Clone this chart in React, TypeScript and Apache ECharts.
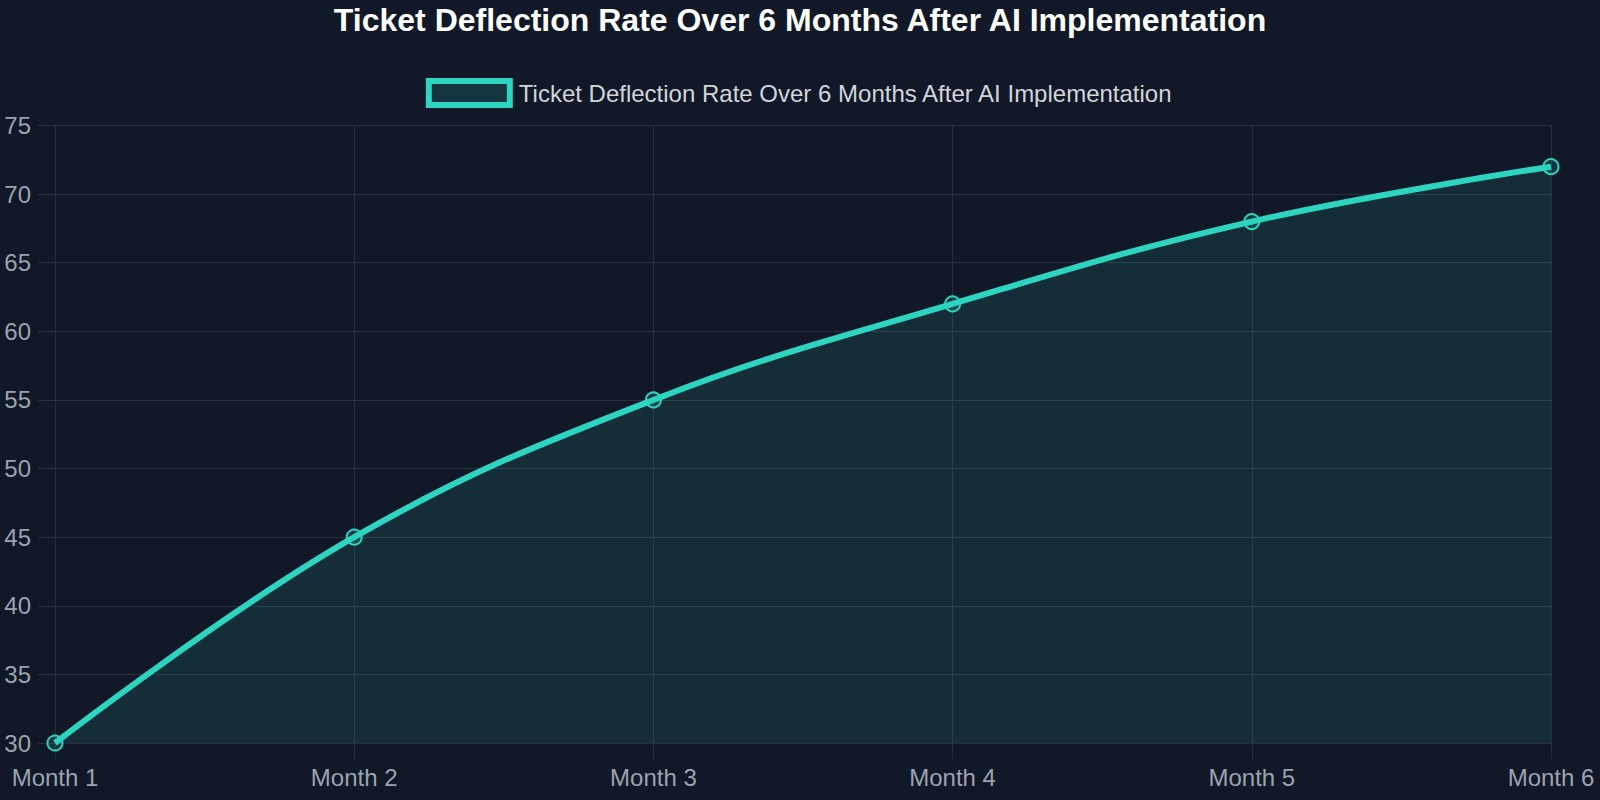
import React, { useEffect, useRef } from "react";
import * as echarts from "echarts";

const chartTitle = "Ticket Deflection Rate Over 6 Months After AI Implementation";
const seriesName = "Ticket Deflection Rate Over 6 Months After AI Implementation";
const months = ["Month 1", "Month 2", "Month 3", "Month 4", "Month 5", "Month 6"];
const deflectionRate = [30, 45, 55, 62, 68, 72];
const yMin = 30;
const yMax = 75;
const yStep = 5;

const TEAL = "#2dd4bf";
const FILL = "rgba(45,212,191,0.16)";
const GRID = "#283040";
const LABEL = "#9ca3af";
const FONT = "'Liberation Sans', Arial, Helvetica, sans-serif";

export default function App() {
  const ref = useRef<HTMLDivElement>(null);

  useEffect(() => {
    if (!ref.current) return;
    const chart = echarts.init(ref.current, undefined, { renderer: "svg" });
    chart.setOption({
      animation: false,
      backgroundColor: "#111827",
      textStyle: { fontFamily: FONT },
      title: {
        text: chartTitle,
        left: "center",
        top: -1,
        textStyle: { color: "#ffffff", fontSize: 32, fontWeight: "bold", fontFamily: FONT },
      },
      legend: {
        top: 73,
        left: "center",
        icon: "rect",
        itemWidth: 81,
        itemHeight: 24,
        itemGap: 10,
        itemStyle: { color: FILL, borderColor: TEAL, borderWidth: 6 },
        textStyle: { color: "#d1d5db", fontSize: 24, fontFamily: FONT, padding: [0, 0, 0, 4] },
        data: [seriesName],
      },
      grid: { left: 55, right: 49, top: 125.5, bottom: 57, containLabel: false },
      xAxis: {
        type: "category",
        data: months,
        boundaryGap: false,
        axisLine: { show: true, lineStyle: { color: GRID, width: 1 } },
        axisTick: { show: true, length: 16, lineStyle: { color: GRID } },
        axisLabel: { color: LABEL, fontSize: 24, margin: 22, fontFamily: FONT },
        splitLine: { show: true, lineStyle: { color: GRID, width: 1 } },
      },
      yAxis: {
        type: "value",
        min: yMin,
        max: yMax,
        interval: yStep,
        axisLine: { show: true, lineStyle: { color: GRID, width: 1 } },
        axisTick: { show: true, length: 17, lineStyle: { color: GRID } },
        axisLabel: { color: LABEL, fontSize: 24, margin: 24, fontFamily: FONT },
        splitLine: { show: true, lineStyle: { color: GRID, width: 1 } },
      },
      series: [
        {
          name: seriesName,
          type: "line",
          data: deflectionRate,
          smooth: 0.4,
          symbol: "circle",
          symbolSize: 15,
          showSymbol: true,
          lineStyle: { color: TEAL, width: 6 },
          itemStyle: { color: FILL, borderColor: TEAL, borderWidth: 2 },
          areaStyle: { color: FILL, origin: "start" },
        },
      ],
    });
    return () => chart.dispose();
  }, []);

  return (
    <div
      ref={ref}
      style={{ position: "fixed", left: 0, top: 0, width: 1600, height: 800 }}
    />
  );
}
